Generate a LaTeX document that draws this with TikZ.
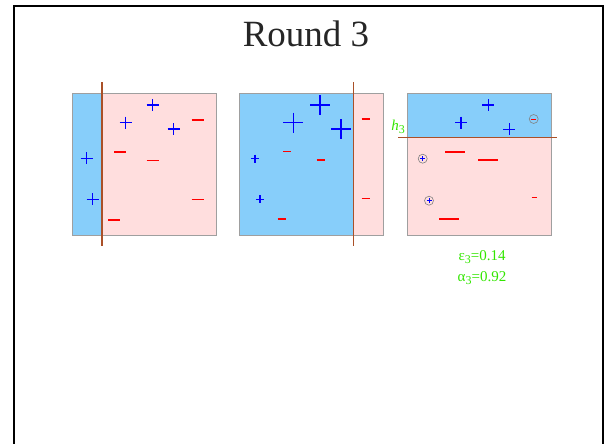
\documentclass[tikz,border=0pt]{standalone}
\usepackage{fontspec}
\setmainfont{Liberation Serif}
\usetikzlibrary{positioning}

\definecolor{skyfill}{RGB}{135,206,250}
\definecolor{pinkfill}{RGB}{255,222,222}
\definecolor{stumpline}{RGB}{170,80,40}
\definecolor{labelgreen}{RGB}{50,230,0}

\newcommand{\lowsub}[1]{\raisebox{-0.35ex}{\fontsize{12}{12}\selectfont #1}}

\begin{document}
\begin{tikzpicture}[x=1pt, y=-1pt,
      frame/.style={draw=gray!75, line width=0.8pt},
      stump/.style={draw=stumpline, line width=1.2pt},
      posmark/.style={draw=blue, line width=1.2pt},
      negmark/.style={draw=red, line width=1.2pt},
      ringmark/.style={draw=gray, line width=0.6pt},
      greenlabel/.style={text=labelgreen, font=\fontsize{15}{16}\selectfont, inner sep=0pt}
    ]
    \clip (0,0) rectangle (605,444);

    % --- slide frame and title ---
    \draw[line width=2.5pt] (14,6) rectangle (603,470);
    \node[font=\fontsize{37}{40}\selectfont, text=black!85] (title) at (306,34) {Round 3};

    % ---- panel 1 (stump h1) ----
    \fill[pinkfill] (72,93) rectangle (216,235);
    \fill[skyfill] (72,93) rectangle (102,235);
    \draw[frame] (72,93) rectangle (216,235);
    \draw[stump] (102,82) -- (102,246);
    \foreach \x/\y in {152.7/105, 125.7/122.7, 173.7/129, 86.7/158.3, 92.7/199.3} {
      \draw[posmark] (\x-6,\y) -- (\x+6,\y) (\x,\y-6) -- (\x,\y+6);
    }
    \foreach \x/\y in {197.7/120, 120/152, 152.7/160.7, 197.7/199.3, 114/220} {
      \draw[negmark] (\x-6,\y) -- (\x+6,\y);
    }

    % ---- panel 2 (stump h2) ----
    \fill[pinkfill] (239.3,93) rectangle (383.3,235);
    \fill[skyfill] (239.3,93) rectangle (353.3,235);
    \draw[frame] (239.3,93) rectangle (383.3,235);
    \draw[stump] (353.3,82) -- (353.3,246);
    \foreach \x/\y/\s in {320/105/10, 293.3/122.7/10, 341/129/10, 255/158.7/4, 260/199.3/4} {
      \draw[posmark] (\x-\s,\y) -- (\x+\s,\y) (\x,\y-\s) -- (\x,\y+\s);
    }
    \foreach \x/\y in {365.7/119, 287.3/151.7, 320.7/160, 365.7/198.3, 281.7/219} {
      \draw[negmark] (\x-4,\y) -- (\x+4,\y);
    }

    % ---- panel 3 (stump h3) ----
    \fill[pinkfill] (407.3,93) rectangle (551,235);
    \fill[skyfill] (407.3,93) rectangle (551,137.7);
    \draw[frame] (407.3,93) rectangle (551,235);
    \draw[stump] (398.3,137.7) -- (556.7,137.7);
    \foreach \x/\y in {488.3/105, 461/122.7, 509.3/129.3} {
      \draw[posmark] (\x-6,\y) -- (\x+6,\y) (\x,\y-6) -- (\x,\y+6);
    }
    \foreach \x/\y/\s in {455/152/10, 488.3/160/10, 449/219/10, 534/197.7/2.5} {
      \draw[negmark] (\x-\s,\y) -- (\x+\s,\y);
    }
    % misclassified points, ringed
    \foreach \x/\y in {422.7/158.7, 429/200.7} {
      \draw[ringmark] (\x,\y) circle (4.5);
      \draw[posmark, line width=0.9pt] (\x-2.5,\y) -- (\x+2.5,\y) (\x,\y-2.5) -- (\x,\y+2.5);
    }
    \draw[ringmark] (533.7,119) circle (4.5);
    \draw[negmark, line width=0.9pt] (531.2,119) -- (536.2,119);

    \node[greenlabel, font=\fontsize{15}{16}\selectfont\itshape] (hlabel) at (398,127) {h\lowsub{\upshape 3}};
    \node[greenlabel] (eps) at (482,257) {ε\lowsub{3}=0.14};
    \node[greenlabel] (alpha) at (482,278) {α\lowsub{3}=0.92};

  \end{tikzpicture}
\end{document}
